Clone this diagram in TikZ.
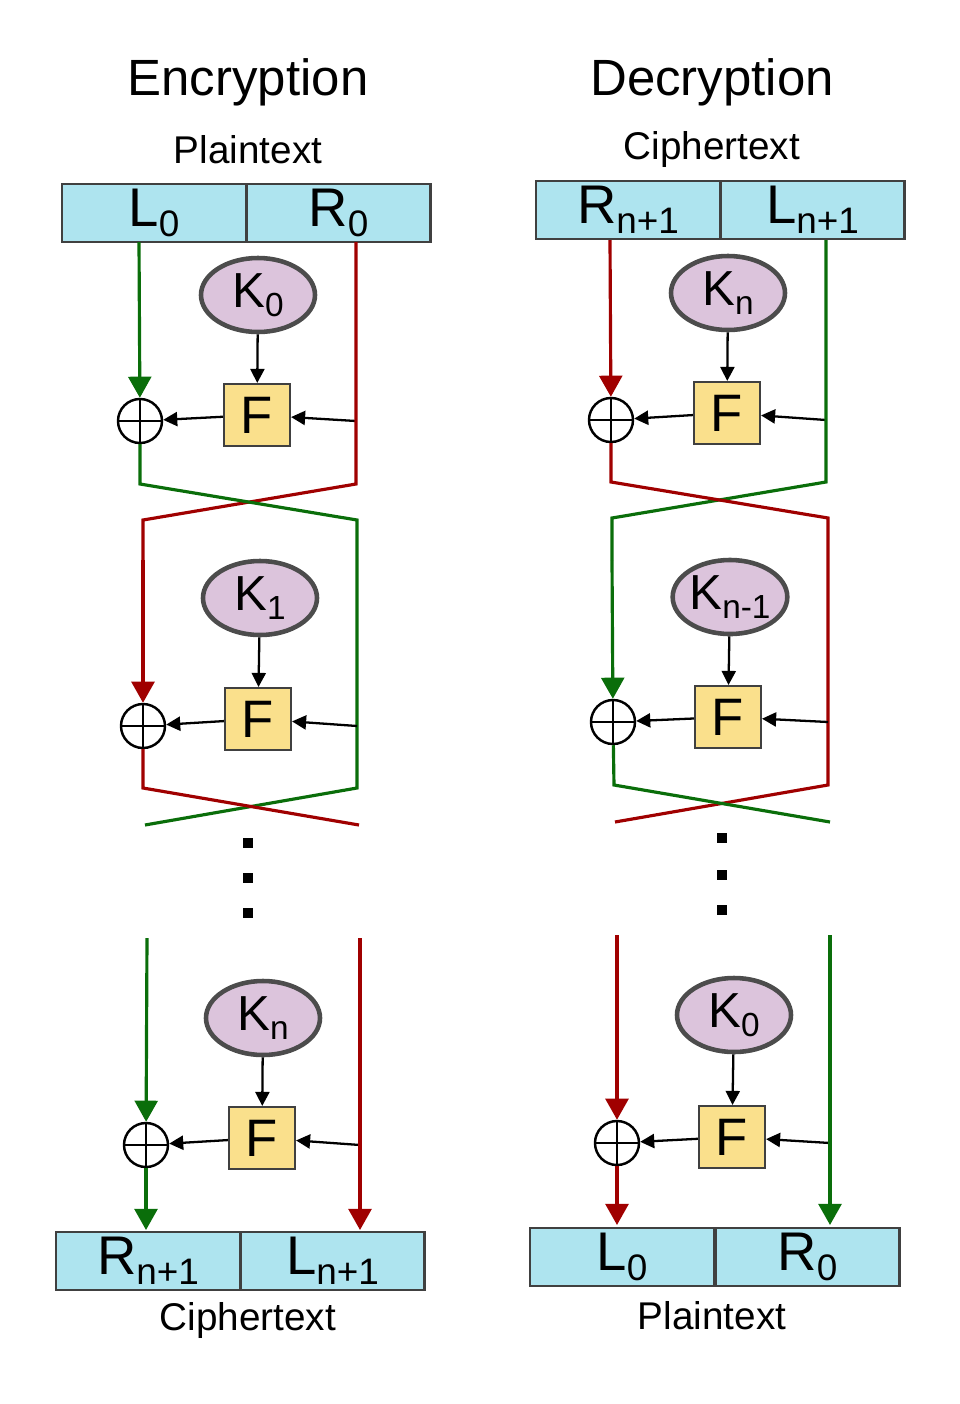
\documentclass[tikz,border=0pt]{standalone}
\usepackage{fontspec}
\setmainfont{Liberation Sans}
\usetikzlibrary{shapes.geometric,arrows.meta}
\definecolor{gr}{RGB}{10,110,10}
\definecolor{rd}{RGB}{160,0,0}
\definecolor{bx}{RGB}{174,228,239}
\definecolor{kf}{RGB}{220,196,220}
\definecolor{ff}{RGB}{250,224,140}
\newcommand{\sbs}[1]{\raisebox{-0.35ex}{\fontsize{21}{21}\selectfont #1}}
\newcommand{\ksb}[1]{\raisebox{-0.35ex}{\fontsize{19}{19}\selectfont #1}}
\tikzset{
 title/.style={font=\fontsize{29}{29}\selectfont},
 captxt/.style={font=\fontsize{22}{22}\selectfont},
 half/.style={draw=black!75,line width=1.2pt,fill=bx,minimum width=184*0.02cm,minimum height=58*0.02cm,inner sep=0pt,font=\fontsize{31}{31}\selectfont},
 key/.style={ellipse,draw=black!70,line width=2.6pt,fill=kf,minimum width=114*0.02cm,minimum height=74*0.02cm,inner sep=0pt,font=\fontsize{28}{28}\selectfont},
 fb/.style={draw=black!75,line width=1.2pt,fill=ff,minimum width=66*0.02cm,minimum height=62*0.02cm,inner sep=0pt,font=\fontsize{30}{30}\selectfont},
 xr/.style={circle,draw,line width=1.4pt,minimum size=44*0.02cm,inner sep=0pt,path picture={\draw[line width=1.4pt] (path picture bounding box.north)--(path picture bounding box.south) (path picture bounding box.west)--(path picture bounding box.east);}},
 gl/.style={gr,line width=1.8pt},
 rl/.style={rd,line width=1.8pt},
 ca/.style={-{Triangle[length=12pt,width=13pt]}},
 ba/.style={black,line width=1.3pt,-{Triangle[length=8pt,width=8pt]}},
 dot/.style={fill,minimum size=6pt,inner sep=0pt}
}
\begin{document}
\begin{tikzpicture}[x=0.02cm,y=-0.02cm]
\useasboundingbox (0,0) rectangle (960,1404);
% ===== Encryption =====
\node[title] (te) at (248,82) {Encryption};
\node[captxt] (pe) at (248,150) {Plaintext};
\node[half] (L0) at (154,213) {L\sbs{0}};
\node[half] (R0) at (338.5,213) {R\sbs{0}};
\node[key] (k0) at (258,295) {K\ksb{0}};
\node[fb] (f0) at (257,415) {F};
\node[xr] (x0) at (140,421) {};
\draw[ba] (k0) -- (f0);
\draw[ba] (356,421) coordinate (t0) -- (f0);
\draw[ba] (f0) -- (x0);
\draw[gl,ca] (139,242) coordinate (a0) -- (x0);
\draw[rl] (356,242) -- (356,484) -- (143,520) -- (143,560) coordinate (b1);
\draw[gl] (x0) -- (140,484) -- (357,520) -- (357,788) -- (145,825);
% round 2
\node[key] (k1) at (260,598) {K\ksb{1}};
\node[fb] (f1) at (258,719) {F};
\node[xr] (x1) at (143,726) {};
\draw[ba] (k1) -- (f1);
\draw[ba] (357,726) coordinate (t1) -- (f1);
\draw[ba] (f1) -- (x1);
\draw[rl,ca] (b1) -- (x1);
\draw[rl] (x1) -- (143,788) -- (359,825);
\node[dot] (d1) at (248,843) {};
\node[dot] (d2) at (248,878) {};
\node[dot] (d3) at (248,913) {};
% round n
\node[key] (kn) at (263,1018) {K\ksb{n}};
\node[fb] (fn) at (262,1138) {F};
\node[xr] (xn) at (146,1145) {};
\draw[ba] (kn) -- (fn);
\draw[ba] (360,1145) coordinate (tn) -- (fn);
\draw[ba] (fn) -- (xn);
\node[half] (Rn) at (148,1261) {R\sbs{n+1}};
\node[half] (Ln) at (332.5,1261) {L\sbs{n+1}};
\draw[gl,ca] (147,938) -- (xn);
\draw[gl,ca] (xn) -- (146,1230);
\draw[rl,ca] (360,938) -- (360,1230);
\node[captxt] (ce) at (248,1320) {Ciphertext};
% ===== Decryption =====
\node[title] (td) at (712,82) {Decryption};
\node[captxt] (cd) at (712,150) {Ciphertext};
\node[half] (dR) at (628,210) {R\sbs{n+1}};
\node[half] (dL) at (812.5,210) {L\sbs{n+1}};
\node[key] (dk0) at (728,293) {K\ksb{n}};
\node[fb] (df0) at (727,413) {F};
\node[xr] (dx0) at (611,420) {};
\draw[ba] (dk0) -- (df0);
\draw[ba] (826,420) -- (df0);
\draw[ba] (df0) -- (dx0);
\draw[rl,ca] (610,240) -- (dx0);
\draw[gl] (826,240) -- (826,482) -- (612,518) -- (612,560);
\draw[rl] (dx0) -- (611,482) -- (828,518) -- (828,785) -- (615,822);
\node[key] (dk1) at (730,597) {K\ksb{n-1}};
\node[fb] (df1) at (728,717) {F};
\node[xr] (dx1) at (613,722) {};
\draw[ba] (dk1) -- (df1);
\draw[ba] (828,722) -- (df1);
\draw[ba] (df1) -- (dx1);
\draw[gl,ca] (612,560) -- (dx1);
\draw[gl] (dx1) -- (614,785) -- (830,822);
\node[dot] (e1) at (722,838) {};
\node[dot] (e2) at (722,875) {};
\node[dot] (e3) at (722,910) {};
\node[key] (dkn) at (734,1015) {K\ksb{0}};
\node[fb] (dfn) at (732,1137) {F};
\node[xr] (dxn) at (617,1143) {};
\draw[ba] (dkn) -- (dfn);
\draw[ba] (830,1143) -- (dfn);
\draw[ba] (dfn) -- (dxn);
\draw[rl,ca] (617,935) -- (dxn);
\draw[rl,ca] (dxn) -- (617,1225);
\draw[gl,ca] (830,935) -- (830,1225);
\node[half] (dL0) at (622,1257) {L\sbs{0}};
\node[half] (dR0) at (807.5,1257) {R\sbs{0}};
\node[captxt] (pd) at (712,1316) {Plaintext};
\end{tikzpicture}
\end{document}
